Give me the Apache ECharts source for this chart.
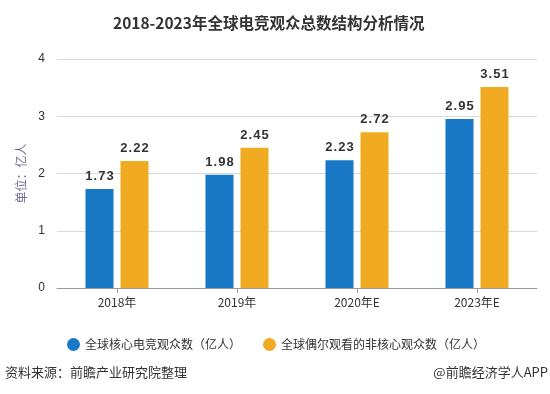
<!DOCTYPE html>
<html><head><meta charset="utf-8">
<script src="https://cdn.jsdelivr.net/npm/echarts@6/dist/echarts.min.js"></script>
<style>html,body{margin:0;padding:0;background:#fff}#c{width:550px;height:394px}</style>
</head><body><div id="c"></div>
<script>
const categories = ['2018年','2019年','2020年E','2023年E'];
const coreViewers = [1.73,1.98,2.23,2.95];
const casualViewers = [2.22,2.45,2.72,3.51];
const seriesNames = ['全球核心电竞观众数（亿人）','全球偶尔观看的非核心观众数（亿人）'];
const yTicks = [0,1,2,3,4];

const chart = echarts.init(document.getElementById('c'));
const font = '"Microsoft YaHei","Noto Sans CJK SC",sans-serif';
const labelCfg = {show:true,position:'top',distance:6,color:'#333',fontWeight:'bold',fontSize:13,
  fontFamily:'"Liberation Sans",Arial,sans-serif',
  formatter:p=>p.value.toFixed(2).split('').join('\u200a')};
chart.setOption({
  animation:false,
  title:{text:'2018-2023年全球电竞观众总数结构分析情况',left:108,top:10,
    textStyle:{fontSize:15.5,fontWeight:'bold',color:'#333',fontFamily:font}},
  grid:{left:57,right:13,top:59,bottom:106},
  legend:{top:333,left:62,itemGap:22,icon:'circle',itemWidth:13,itemHeight:13,
    textStyle:{fontSize:12,color:'#333',fontFamily:font},data:seriesNames},
  xAxis:{type:'category',data:categories,
    axisLine:{lineStyle:{color:'#999'}},axisTick:{show:true,alignWithLabel:true,length:5,lineStyle:{color:'#999'}},
    axisLabel:{color:'#333',fontSize:12,margin:8,fontFamily:font}},
  yAxis:{type:'value',min:yTicks[0],max:yTicks[yTicks.length-1],interval:1,
    name:'单位：亿人',nameLocation:'middle',nameGap:30,nameRotate:90,
    nameTextStyle:{color:'#6b6a8f',fontSize:12,fontFamily:font},
    axisLabel:{color:'#333',fontSize:12,margin:12},
    axisLine:{show:false},axisTick:{show:false},
    splitLine:{lineStyle:{color:'#d9d9d9'}}},
  series:[
    {name:seriesNames[0],type:'bar',data:coreViewers,barWidth:28,barGap:'25%',itemStyle:{color:'#1878c6'},label:labelCfg},
    {name:seriesNames[1],type:'bar',data:casualViewers,barWidth:28,itemStyle:{color:'#f0ab22'},label:labelCfg}
  ],
  graphic:[
    {type:'text',left:5,top:366,style:{text:'资料来源：前瞻产业研究院整理',fontSize:13,fill:'#333',fontFamily:font}},
    {type:'text',right:2,top:366,style:{text:'@前瞻经济学人APP',fontSize:13,fill:'#333',fontFamily:font}}
  ]
});
</script></body></html>
